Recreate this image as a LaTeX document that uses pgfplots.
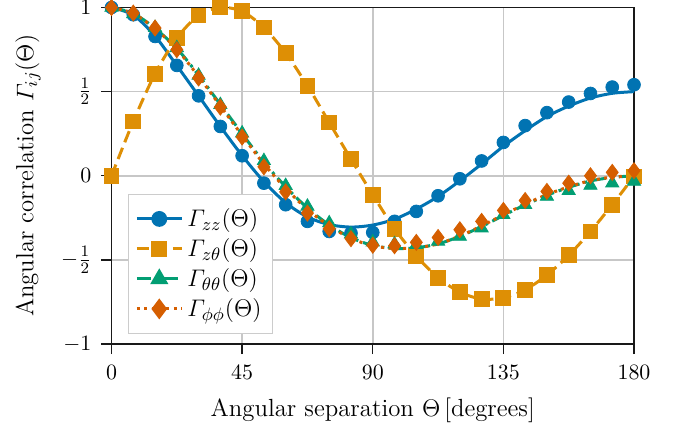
\documentclass[border=0pt]{standalone}
\usepackage{amsmath}
\usepackage{pgfplots}
\usepackage{pgfplotstable}
\pgfplotsset{compat=1.18}

\definecolor{cbBlue}{HTML}{0173B2}
\definecolor{cbOrange}{HTML}{DE8F05}
\definecolor{cbGreen}{HTML}{029E73}
\definecolor{cbRed}{HTML}{D55E00}

% sampled correlations (markers)
\pgfplotstableread{
theta zz     zt     tt     pp
0     1.000  0.000  1.000  1.000
7.5   0.957  0.323  0.962  0.967
15    0.828  0.606  0.880  0.878
22.5  0.656  0.818  0.760  0.749
30    0.475  0.953  0.596  0.581
37.5  0.293  1.000  0.422  0.408
45    0.119  0.977  0.253  0.230
52.5 -0.044  0.881  0.089  0.053
60   -0.172  0.729 -0.059 -0.096
67.5 -0.271  0.535 -0.182 -0.222
75   -0.331  0.317 -0.281 -0.315
82.5 -0.341  0.099 -0.347 -0.374
90   -0.337 -0.113 -0.394 -0.413
97.5 -0.271 -0.315 -0.406 -0.416
105  -0.212 -0.477 -0.410 -0.396
112.5 -0.119 -0.606 -0.390 -0.367
120  -0.018 -0.691 -0.361 -0.321
127.5 0.088 -0.733 -0.311 -0.271
135   0.198 -0.725 -0.232 -0.206
142.5 0.298 -0.678 -0.172 -0.147
150   0.375 -0.590 -0.123 -0.093
157.5 0.438 -0.473 -0.089 -0.044
165   0.489 -0.331 -0.058  0.000
172.5 0.527 -0.172 -0.044  0.020
180   0.541 -0.004 -0.034  0.030
}\markdata

% model curves
\pgfplotstableread{
theta zz     tt     pp
0     1.000  1.000  1.000
7.5   0.955  0.965  0.965
15    0.830  0.876  0.874
22.5  0.655  0.757  0.752
30    0.475  0.598  0.590
37.5  0.293  0.424  0.415
45    0.120  0.250  0.240
52.5 -0.035  0.080  0.070
60   -0.160 -0.065 -0.075
67.5 -0.245 -0.192 -0.200
75   -0.290 -0.292 -0.298
82.5 -0.305 -0.368 -0.372
90   -0.293 -0.414 -0.416
97.5 -0.258 -0.432 -0.432
105  -0.198 -0.428 -0.428
112.5 -0.123 -0.405 -0.405
120  -0.030 -0.360 -0.358
127.5 0.070 -0.302 -0.298
135   0.175 -0.236 -0.232
142.5 0.268 -0.173 -0.169
150   0.352 -0.116 -0.112
157.5 0.414 -0.069 -0.066
165   0.462 -0.031 -0.029
172.5 0.490 -0.010 -0.008
180   0.500  0.000  0.000
}\curvedata

\begin{document}
\begin{tikzpicture}
\begin{axis}[
  name=ax,
  scale only axis,
  width=261.25pt, height=168.25pt,
  xmin=0, xmax=180, ymin=-1, ymax=1,
  xtick={0,45,90,135,180},
  ytick={-1,-0.5,0,0.5,1},
  yticklabels={$-1$,$-\frac{1}{2}$,$0$,$\frac{1}{2}$,$1$},
  tick pos=left, tick align=outside,
  major tick length=5pt,
  grid=major,
  grid style={color=black!22, line width=0.8pt},
  axis line style={line width=0.7pt, black!90},
  tick style={line width=0.7pt, black!90},
  ticklabel style={font=\fontsize{11}{13}\selectfont},
  xticklabel style={yshift=-2pt},
  yticklabel style={xshift=-1.5pt},
  xlabel={Angular separation $\Theta\,$[degrees]},
  ylabel={Angular correlation $\varGamma_{ij}(\Theta)$},
  label style={font=\fontsize{12.4}{14.5}\selectfont},
  xlabel style={at={(axis description cs:0.5,0)}, anchor=base, yshift=-36pt},
  ylabel style={at={(axis description cs:-0.1598,0.5)}, anchor=center},
  clip=false,
  legend cell align=left,
  legend style={
    at={(axis description cs:0.031,0.0297)}, anchor=south west,
    draw=black!20, line width=0.6pt, fill=white,
    font=\fontsize{13}{15.5}\selectfont,
    row sep=0.5pt, inner xsep=3.5pt, inner ysep=5pt,
  },
  legend image code/.code={
    \draw[mark repeat=2, mark phase=2, #1]
      plot coordinates {(0pt,0pt) (11.25pt,0pt) (22.5pt,0pt)};
  },
]

% Gamma_zz: model curve and samples
\addplot[cbBlue, line width=1.5pt, smooth, forget plot]
  table[x=theta, y=zz] {\curvedata};
\addplot[only marks, mark=*, mark size=3.2pt, color=cbBlue, forget plot]
  table[x=theta, y=zz] {\markdata};

% Gamma_z theta
\addplot[cbOrange, line width=1.5pt, dash pattern=on 6pt off 3pt, smooth,
  mark=square*, mark size=3.2pt, mark options={solid}, forget plot]
  table[x=theta, y=zt] {\markdata};

% Gamma_theta theta
\addplot[cbGreen, line width=1.5pt, dash pattern=on 7pt off 2.5pt on 1.5pt off 2.5pt,
  smooth, forget plot]
  table[x=theta, y=tt] {\curvedata};
\addplot[only marks, mark=triangle*, mark size=3.8pt, color=cbGreen, forget plot]
  table[x=theta, y=tt] {\markdata};

% Gamma_phi phi
\addplot[cbRed, line width=1.5pt, dash pattern=on 1.5pt off 2.2pt, smooth, forget plot]
  table[x=theta, y=pp] {\curvedata};
\addplot[only marks, mark=diamond*, mark size=4pt, color=cbRed, forget plot]
  table[x=theta, y=pp] {\markdata};

\addlegendimage{cbBlue, line width=1.5pt, mark=*, mark size=3.2pt}
\addlegendentry{$\varGamma_{zz}(\Theta)$}
\addlegendimage{cbOrange, line width=1.5pt, dash pattern=on 6pt off 3pt,
  mark=square*, mark size=3.2pt, mark options={solid}}
\addlegendentry{$\varGamma_{z\theta}(\Theta)$}
\addlegendimage{cbGreen, line width=1.5pt, dash pattern=on 7pt off 2.5pt on 1.5pt off 2.5pt,
  mark=triangle*, mark size=3.8pt, mark options={solid}}
\addlegendentry{$\varGamma_{\theta\theta}(\Theta)$}
\addlegendimage{cbRed, line width=1.5pt, dash pattern=on 1.5pt off 2.2pt,
  mark=diamond*, mark size=4pt, mark options={solid}}
\addlegendentry{$\varGamma_{\phi\phi}(\Theta)$}
\end{axis}
\pgfresetboundingbox
\path[use as bounding box]
  ([xshift=-55.75pt,yshift=-43pt]ax.south west)
  rectangle ([xshift=27pt,yshift=3.75pt]ax.north east);
\end{tikzpicture}
\end{document}
